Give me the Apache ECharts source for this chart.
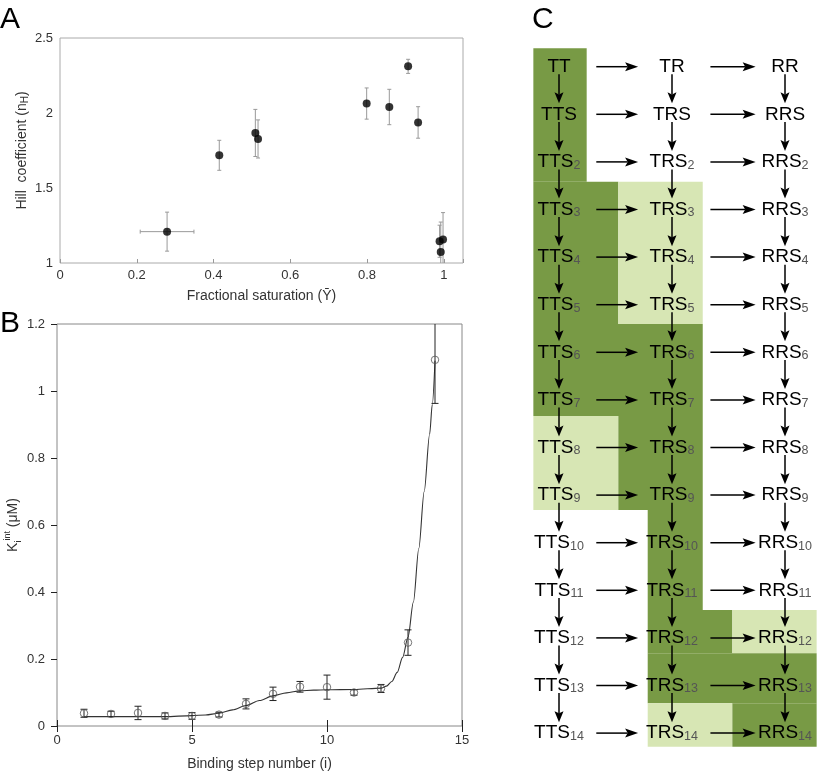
<!DOCTYPE html>
<html><head><meta charset="utf-8">
<script src="https://cdn.jsdelivr.net/npm/echarts@6/dist/echarts.min.js"></script>
<style>html,body{margin:0;padding:0;background:#fff}#c{width:825px;height:776px}</style>
</head><body><div id="c"></div>
<script>
// ---------- Panel A data ----------
const hillX    = [0.279, 0.415, 0.509, 0.516, 0.799, 0.858, 0.907, 0.933, 0.989, 0.992, 0.998];
const hillY    = [1.209, 1.718, 1.867, 1.827, 2.063, 2.040, 2.311, 1.937, 1.145, 1.073, 1.156];
const hillYErr = [0.130, 0.100, 0.157, 0.127, 0.104, 0.118, 0.047, 0.105, 0.107, 0.200, 0.180];
const hillXErr = [0.070, 0, 0, 0, 0, 0, 0, 0, 0, 0, 0];
const aXTicks  = [0, 0.2, 0.4, 0.6, 0.8, 1];
const aYTicks  = [1, 1.5, 2, 2.5];

// ---------- Panel B data ----------
const steps = [1, 2, 3, 4, 5, 6, 7, 8, 9, 10, 11, 12, 13, 14];
const kInt  = [0.038, 0.036, 0.039, 0.030, 0.030, 0.034, 0.066, 0.096, 0.117, 0.116, 0.100, 0.112, 0.249, 1.093];
const kErr  = [0.012, 0.008, 0.020, 0.009, 0.010, 0.007, 0.015, 0.020, 0.016, 0.036, 0.008, 0.012, 0.038, 0.130];
const fitX  = [1, 2, 3, 4, 5, 5.5, 6, 6.5, 7, 7.5, 8, 8.5, 9, 9.5, 10, 11, 12, 12.2, 12.4, 12.6, 12.8, 13, 13.2, 13.4, 13.6, 13.8, 13.9, 14];
const fitY  = [0.028, 0.028, 0.028, 0.028, 0.031, 0.033, 0.038, 0.048, 0.061, 0.076, 0.090, 0.099, 0.105, 0.107, 0.108, 0.109, 0.113, 0.119, 0.133, 0.160, 0.205, 0.265, 0.37, 0.53, 0.70, 0.87, 0.96, 1.09];
const bXTicks = [0, 5, 10, 15];
const bYTicks = [0, 0.2, 0.4, 0.6, 0.8, 1, 1.2];

// ---------- Panel C data ----------
const stateCols = ['TT', 'TR', 'RR'];
const ligandCount = 14;
// shaded regions: [colFrom, colTo, rowFrom, rowTo, shade]
const shadeRegions = [
  [-0.227, 0.245, -0.387, 2.416, 'dark'],
  [-0.227, 0.525, 2.416, 5.405, 'dark'],
  [0.525, 1.272, 2.416, 5.405, 'light'],
  [-0.227, 1.272, 5.405, 7.338, 'dark'],
  [-0.227, 0.525, 7.338, 9.313, 'light'],
  [0.525, 1.272, 7.338, 9.313, 'dark'],
  [0.785, 1.272, 9.313, 11.414, 'dark'],
  [0.785, 1.534, 11.414, 12.324, 'dark'],
  [1.534, 2.28, 11.414, 12.324, 'light'],
  [0.785, 2.28, 12.324, 13.374, 'dark'],
  [0.785, 1.534, 13.374, 14.286, 'light'],
  [1.534, 2.28, 13.374, 14.286, 'dark']
];

const FONT = '"Liberation Sans", Arial, Helvetica, sans-serif';
const SHADE = { dark: '#789a45', light: '#d7e6b4' };

// Build C label / arrow tables
const cLabels = [];
for (let k = 0; k <= ligandCount; k++) {
  for (let c = 0; c < 3; c++) {
    const base = stateCols[c] + (k >= 1 ? 'S' : '');
    cLabels.push([c, k, base, k >= 2 ? String(k) : '']);
  }
}
const H_FROM = [0.33, 1.34], H_TO = [0.70, 1.74];
const V_FROM = 0.16, V_TO = 0.77;
const cArrows = [];
for (let k = 0; k <= ligandCount; k++) {
  for (let c = 0; c < 2; c++) cArrows.push([H_FROM[c], k, H_TO[c], k]);
  if (k < ligandCount) for (let c = 0; c < 3; c++) cArrows.push([c, k + V_FROM, c, k + V_TO]);
}

function errRender(capW, color, lw) {
  return function (params, api) {
    const x = api.value(0), y = api.value(1), ex = api.value(2), ey = api.value(3);
    const ch = [];
    const st = { stroke: color, lineWidth: lw };
    if (ey > 0) {
      const a = api.coord([x, y - ey]), b = api.coord([x, y + ey]);
      ch.push({ type: 'line', shape: { x1: a[0], y1: a[1], x2: b[0], y2: b[1] }, style: st });
      ch.push({ type: 'line', shape: { x1: a[0] - capW, y1: a[1], x2: a[0] + capW, y2: a[1] }, style: st });
      ch.push({ type: 'line', shape: { x1: b[0] - capW, y1: b[1], x2: b[0] + capW, y2: b[1] }, style: st });
    }
    if (ex > 0) {
      const a = api.coord([x - ex, y]), b = api.coord([x + ex, y]);
      ch.push({ type: 'line', shape: { x1: a[0], y1: a[1], x2: b[0], y2: b[1] }, style: st });
      ch.push({ type: 'line', shape: { x1: a[0], y1: a[1] - capW, x2: a[0], y2: a[1] + capW }, style: st });
      ch.push({ type: 'line', shape: { x1: b[0], y1: b[1] - capW, x2: b[0], y2: b[1] + capW }, style: st });
    }
    return { type: 'group', children: ch };
  };
}

function pickLabel(ticks) {
  return function (v) {
    return ticks.some(t => Math.abs(t - v) < 1e-9) ? String(+v.toFixed(2)) : '';
  };
}

const chart = echarts.init(document.getElementById('c'), null, { renderer: 'canvas' });
const labelStyle = { color: '#333', fontSize: 13, fontFamily: FONT };
const nameStyle = { color: '#333', fontSize: 14, fontFamily: FONT };

const option = {
  backgroundColor: '#fff',
  animation: false,
  title: [
    { text: 'A', left: 0, top: 5, padding: 0, textStyle: { fontSize: 30, fontWeight: 'normal', color: '#000', fontFamily: FONT } },
    { text: 'B', left: 0, top: 309, padding: 0, textStyle: { fontSize: 30, fontWeight: 'normal', color: '#000', fontFamily: FONT } },
    { text: 'C', left: 532, top: 5, padding: 0, textStyle: { fontSize: 30, fontWeight: 'normal', color: '#000', fontFamily: FONT } }
  ],
  grid: [
    { left: 60, top: 38, width: 403, height: 225, show: true, borderColor: '#aaa', borderWidth: 1, containLabel: false },
    { left: 57, top: 324, width: 405, height: 405, show: true, borderColor: '#888', borderWidth: 1, containLabel: false },
    { left: 525.1, top: 42.9, width: 293.8, height: 714, show: false, containLabel: false }
  ],
  xAxis: [
    { gridIndex: 0, type: 'value', min: 0, max: 1.05, interval: 0.2,
      axisLine: { show: false }, splitLine: { show: false },
      axisTick: { inside: true, length: 4, lineStyle: { color: '#999' } },
      axisLabel: { ...labelStyle, margin: 6, formatter: pickLabel(aXTicks), showMaxLabel: true },
      name: 'Fractional saturation (Ȳ)', nameLocation: 'middle', nameGap: 26, nameTextStyle: nameStyle },
    { gridIndex: 1, type: 'value', min: 0, max: 15, interval: 5,
      axisLine: { show: false }, splitLine: { show: false },
      axisTick: { inside: true, length: 6, lineStyle: { color: '#222' } },
      axisLabel: { ...labelStyle, margin: 8, formatter: pickLabel(bXTicks) },
      name: 'Binding step number (i)', nameLocation: 'middle', nameGap: 31, nameTextStyle: nameStyle },
    { gridIndex: 1, type: 'value', min: 0, max: 15, interval: 5, position: 'top',
      axisLine: { show: false }, splitLine: { show: false }, axisLabel: { show: false },
      axisTick: { inside: true, length: 6, lineStyle: { color: '#222' } } },
    { gridIndex: 2, type: 'value', min: -0.3, max: 2.3, show: false }
  ],
  yAxis: [
    { gridIndex: 0, type: 'value', min: 1, max: 2.5, interval: 0.5,
      axisLine: { show: false }, splitLine: { show: false }, axisTick: { show: false },
      axisLabel: { ...labelStyle, margin: 7, formatter: pickLabel(aYTicks) },
      name: '{t|Hill  coefficient (n}{s|H}{t|)}', nameLocation: 'middle', nameGap: 30,
      nameTextStyle: { ...nameStyle, rich: {
        t: { fontSize: 14, color: '#333', fontFamily: FONT, lineHeight: 16 },
        s: { fontSize: 10, color: '#333', fontFamily: FONT, lineHeight: 10, verticalAlign: 'bottom' } } } },
    { gridIndex: 1, type: 'value', min: 0, max: 1.2, interval: 0.2,
      axisLine: { show: false }, splitLine: { show: false }, axisTick: { show: false },
      axisLabel: { ...labelStyle, margin: 12, formatter: pickLabel(bYTicks) },
      name: '{k|K}{sub|i}{sup|int}{t| (μM)}', nameLocation: 'middle', nameGap: 34,
      nameTextStyle: { ...nameStyle, rich: {
        k: { fontSize: 14, color: '#333', fontFamily: FONT, lineHeight: 20 },
        sub: { fontSize: 9, color: '#333', fontFamily: FONT, lineHeight: 9, verticalAlign: 'bottom' },
        sup: { fontSize: 9, color: '#333', fontFamily: FONT, lineHeight: 9, verticalAlign: 'top' },
        t: { fontSize: 14, color: '#333', fontFamily: FONT, lineHeight: 20 } } } },
    { gridIndex: 1, type: 'value', min: 0, max: 1.2, interval: 0.2, position: 'right',
      axisLine: { show: false }, splitLine: { show: false }, axisLabel: { show: false },
      axisTick: { inside: true, length: 6, lineStyle: { color: '#222' } } },
    { gridIndex: 2, type: 'value', min: -0.5, max: 14.5, inverse: true, show: false }
  ],
  series: [
    // Panel A
    { type: 'custom', xAxisIndex: 0, yAxisIndex: 0, clip: true,
      renderItem: errRender(2, '#999', 1), encode: { x: 0, y: 1 },
      data: hillX.map((x, i) => [x, hillY[i], hillXErr[i], hillYErr[i]]), z: 2 },
    { type: 'scatter', xAxisIndex: 0, yAxisIndex: 0, symbol: 'circle', symbolSize: 8,
      itemStyle: { color: '#000' }, data: hillX.map((x, i) => [x, hillY[i]]), z: 3 },
    // Panel B
    { type: 'line', xAxisIndex: 1, yAxisIndex: 1, showSymbol: false, smooth: 0.3, smoothMonotone: 'x',
      lineStyle: { color: '#333', width: 1.1 }, data: fitX.map((x, i) => [x, fitY[i]]), z: 2 },
    { type: 'custom', xAxisIndex: 1, yAxisIndex: 1, clip: true,
      renderItem: errRender(3.5, '#222', 1), encode: { x: 0, y: 1 },
      data: steps.map((x, i) => [x, kInt[i], 0, kErr[i]]), z: 3 },
    { type: 'scatter', xAxisIndex: 1, yAxisIndex: 1, symbol: 'circle', symbolSize: 7.5,
      itemStyle: { color: 'rgba(0,0,0,0)', borderColor: '#555', borderWidth: 1 },
      data: steps.map((x, i) => [x, kInt[i]]), z: 4 },
    // Panel C shading
    { type: 'custom', xAxisIndex: 3, yAxisIndex: 3,
      renderItem: function (params, api) {
        const a = api.coord([api.value(0), api.value(2)]);
        const b = api.coord([api.value(1), api.value(3)]);
        const shade = shadeRegions[params.dataIndex][4];
        return { type: 'rect', shape: { x: a[0], y: a[1], width: b[0] - a[0], height: b[1] - a[1] },
          style: { fill: SHADE[shade], stroke: null } };
      },
      encode: { x: [0, 1], y: [2, 3] },
      data: shadeRegions.map(r => [r[0], r[1], r[2], r[3]]), z: 1 },
    // Panel C arrows
    { type: 'custom', xAxisIndex: 3, yAxisIndex: 3,
      renderItem: function (params, api) {
        const p0 = api.coord([api.value(0), api.value(1)]);
        const p1 = api.coord([api.value(2), api.value(3)]);
        const dx = p1[0] - p0[0], dy = p1[1] - p0[1];
        const len = Math.sqrt(dx * dx + dy * dy);
        const ux = dx / len, uy = dy / len, nx = -uy, ny = ux;
        const horiz = Math.abs(dx) > Math.abs(dy);
        const L = horiz ? 13 : 11, W = horiz ? 4.5 : 4.5;
        const bx = p1[0] - ux * L, by = p1[1] - uy * L;
        const mx = p1[0] - ux * L * 0.8, my = p1[1] - uy * L * 0.8;
        return { type: 'group', children: [
          { type: 'line', shape: { x1: p0[0], y1: p0[1], x2: mx, y2: my }, style: { stroke: '#000', lineWidth: 1.5 } },
          { type: 'polygon', shape: { points: [[p1[0], p1[1]], [bx + nx * W, by + ny * W], [mx, my], [bx - nx * W, by - ny * W]] },
            style: { fill: '#000' } }
        ] };
      },
      encode: { x: [0, 2], y: [1, 3] },
      data: cArrows, z: 3 },
    // Panel C labels
    { type: 'custom', xAxisIndex: 3, yAxisIndex: 3,
      renderItem: function (params, api) {
        const item = cLabels[params.dataIndex];
        const p = api.coord([item[0], item[1]]);
        const txt = '{m|' + item[2] + '}' + (item[3] ? '{s|' + item[3] + '}' : '');
        return { type: 'text', x: p[0], y: p[1],
          style: { text: txt, align: 'center', verticalAlign: 'middle',
            rich: {
              m: { fontSize: 19, fontFamily: FONT, fill: '#000', lineHeight: 20 },
              s: { fontSize: 12.5, fontFamily: FONT, fill: '#555', lineHeight: 15, verticalAlign: 'bottom' }
            } } };
      },
      encode: { x: 0, y: 1 },
      data: cLabels.map(l => [l[0], l[1]]), z: 4 }
  ]
};
chart.setOption(option);
</script>
</body></html>
